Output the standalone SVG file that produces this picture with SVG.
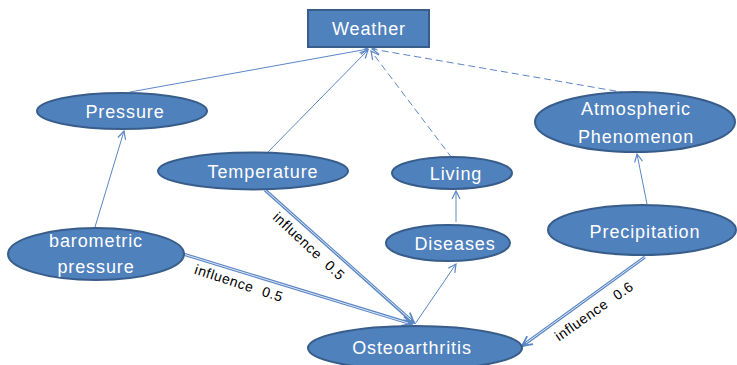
<svg xmlns="http://www.w3.org/2000/svg" width="737" height="365" viewBox="0 0 737 365">
  <style>
    .node { fill: #4F81BD; stroke: #385D8A; stroke-width: 2; }
    .label { fill: #FFFFFF; font-family: "Liberation Sans", Arial, sans-serif; font-size: 18px; letter-spacing: 0.9px; text-anchor: middle; }
    .edge { stroke: #5B87C5; stroke-width: 1; fill: none; }
    .dashed { stroke-dasharray: 7 4; }
    .double-outer { stroke: #5B87C5; stroke-width: 3.2; fill: none; }
    .double-inner { stroke: #DCE6F4; stroke-width: 1; fill: none; }
    .edge-label { fill: #000000; font-family: "Liberation Sans", Arial, sans-serif; font-size: 14px; letter-spacing: 0.6px; word-spacing: 5px; text-anchor: middle; }
  </style>
  <defs>
    <marker id="arrow" viewBox="0 0 10 10" refX="9" refY="5" markerWidth="10" markerHeight="10" markerUnits="userSpaceOnUse" orient="auto">
      <path d="M1,1 L9,5 L1,9" fill="none" stroke="#5B87C5" stroke-width="1.2"/>
    </marker>
    <marker id="arrow-bold" viewBox="0 0 12 12" refX="11" refY="6" markerWidth="12" markerHeight="12" markerUnits="userSpaceOnUse" orient="auto">
      <path d="M1,1 L11,6 L1,11" fill="none" stroke="#5B87C5" stroke-width="1.8"/>
    </marker>
  </defs>

  <!-- connectors -->
  <g id="connectors">
    <line class="edge" x1="130" y1="92" x2="368" y2="49" marker-end="url(#arrow)"/>
    <line class="edge" x1="267" y1="153" x2="368" y2="50" marker-end="url(#arrow)"/>
    <line class="edge dashed" x1="452" y1="158" x2="371" y2="51" marker-end="url(#arrow)"/>
    <line class="edge dashed" x1="627" y1="93" x2="372" y2="49" marker-end="url(#arrow)"/>
    <line class="edge" x1="95" y1="227" x2="124" y2="131" marker-end="url(#arrow)"/>
    <line class="edge" x1="647" y1="204" x2="637" y2="154" marker-end="url(#arrow)"/>
    <line class="edge" x1="456" y1="222" x2="456" y2="191" marker-end="url(#arrow)"/>
    <line class="edge" x1="415" y1="324" x2="456" y2="264" marker-end="url(#arrow)"/>

    <!-- weighted influences drawn as double lines -->
    <line class="double-outer" x1="265" y1="190" x2="414" y2="323" marker-end="url(#arrow-bold)"/>
    <line class="double-inner" x1="265" y1="190" x2="411" y2="320"/>
    <line class="double-outer" x1="183" y1="254" x2="412" y2="324" marker-end="url(#arrow-bold)"/>
    <line class="double-inner" x1="183" y1="254" x2="408" y2="323"/>
    <line class="double-outer" x1="645" y1="257" x2="522" y2="346" marker-end="url(#arrow-bold)"/>
    <line class="double-inner" x1="645" y1="257" x2="526" y2="343"/>

    <text class="edge-label" transform="translate(309,246) rotate(43)" y="5">influence 0.5</text>
    <text class="edge-label" transform="translate(239,283) rotate(18)" y="5">influence 0.5</text>
    <text class="edge-label" transform="translate(594,311) rotate(-35)" y="5">influence 0.6</text>
  </g>

  <g id="weather">
    <rect class="node" x="308" y="10" width="121" height="37"/>
    <text class="label" x="369" y="35">Weather</text>
  </g>

  <g id="pressure">
    <ellipse class="node" cx="122" cy="111" rx="85" ry="18"/>
    <text class="label" x="125" y="118">Pressure</text>
  </g>

  <g id="temperature">
    <ellipse class="node" cx="253" cy="171" rx="95" ry="18.5"/>
    <text class="label" x="263" y="178">Temperature</text>
  </g>

  <g id="living">
    <ellipse class="node" cx="452" cy="173" rx="60" ry="16"/>
    <text class="label" x="456" y="180">Living</text>
  </g>

  <g id="atmospheric-phenomenon">
    <ellipse class="node" cx="635" cy="122" rx="100" ry="30"/>
    <text class="label" x="636" y="115">Atmospheric</text>
    <text class="label" x="636" y="143">Phenomenon</text>
  </g>

  <g id="diseases">
    <ellipse class="node" cx="448" cy="243" rx="62" ry="18"/>
    <text class="label" x="455" y="250">Diseases</text>
  </g>

  <g id="precipitation">
    <ellipse class="node" cx="642" cy="230" rx="94" ry="25"/>
    <text class="label" x="645" y="238">Precipitation</text>
  </g>

  <g id="barometric-pressure">
    <ellipse class="node" cx="96" cy="254" rx="88" ry="26"/>
    <text class="label" x="96" y="247">barometric</text>
    <text class="label" x="96" y="273">pressure</text>
  </g>

  <g id="osteoarthritis">
    <ellipse class="node" cx="415" cy="348" rx="107" ry="22"/>
    <text class="label" x="412" y="354">Osteoarthritis</text>
  </g>
</svg>
